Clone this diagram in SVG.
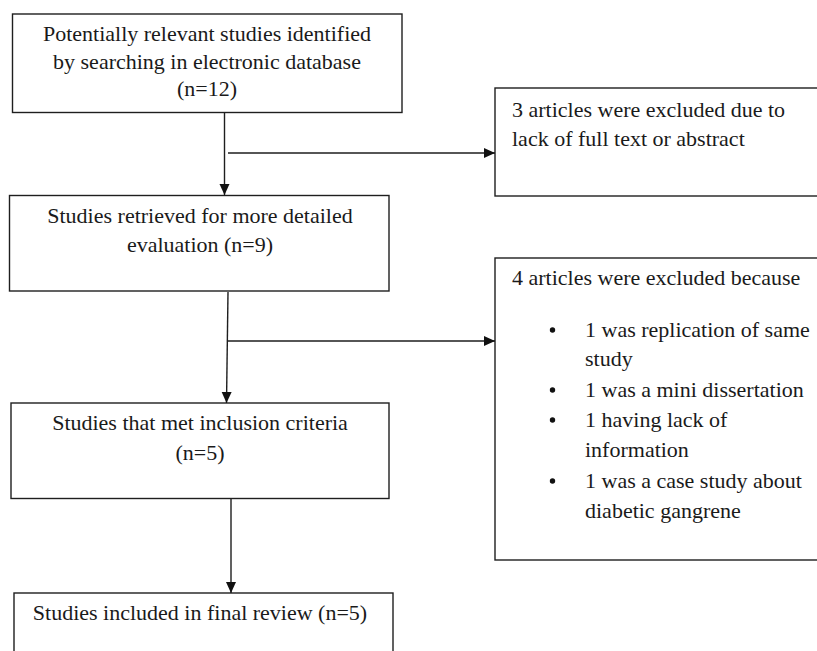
<svg xmlns="http://www.w3.org/2000/svg" width="817" height="651" viewBox="0 0 817 651">
  <style>
    .box { fill: #ffffff; stroke: #1e1e1e; stroke-width: 1.4; }
    .t { font-family: "Liberation Serif", "Times New Roman", serif; font-size: 22px; fill: #1a1a1a; }
    .c { text-anchor: middle; }
    .conn { stroke: #1e1e1e; stroke-width: 1.4; fill: none; }
    .bul { fill: #111111; }
  </style>
  <defs>
    <marker id="arrow" markerUnits="userSpaceOnUse" markerWidth="12" markerHeight="12" refX="11" refY="5" orient="auto">
      <path d="M0,0 L11,5 L0,10 Z" fill="#111111"/>
    </marker>
  </defs>
  <rect x="0" y="0" width="817" height="651" fill="#ffffff"/>

  <g id="node-identified">
    <rect class="box" x="12.5" y="14" width="389.5" height="98.5"/>
    <text class="t c" x="207" y="41">Potentially relevant studies identified</text>
    <text class="t c" x="207" y="68.5">by searching in electronic database</text>
    <text class="t c" x="207" y="96">(n=12)</text>
  </g>

  <g id="node-excluded1">
    <rect class="box" x="495" y="88" width="340" height="108"/>
    <text class="t" x="512" y="117">3 articles were excluded due to</text>
    <text class="t" x="512" y="146">lack of full text or abstract</text>
  </g>

  <g id="node-retrieved">
    <rect class="box" x="9.5" y="195.5" width="379.5" height="95.5"/>
    <text class="t c" x="200" y="222.5">Studies retrieved for more detailed</text>
    <text class="t c" x="200" y="251.5">evaluation (n=9)</text>
  </g>

  <g id="node-excluded2">
    <rect class="box" x="495" y="258" width="340" height="302"/>
    <text class="t" x="512" y="285">4 articles were excluded because</text>
    <circle class="bul" cx="552.5" cy="330" r="2.7"/>
    <text class="t" x="585" y="337">1 was replication of same</text>
    <text class="t" x="585" y="366">study</text>
    <circle class="bul" cx="552.5" cy="390" r="2.7"/>
    <text class="t" x="585" y="397">1 was a mini dissertation</text>
    <circle class="bul" cx="552.5" cy="420" r="2.7"/>
    <text class="t" x="585" y="427">1 having lack of</text>
    <text class="t" x="585" y="457">information</text>
    <circle class="bul" cx="552.5" cy="481" r="2.7"/>
    <text class="t" x="585" y="488">1 was a case study about</text>
    <text class="t" x="585" y="517.5">diabetic gangrene</text>
  </g>

  <g id="node-met-criteria">
    <rect class="box" x="11" y="403" width="378" height="95.5"/>
    <text class="t c" x="200" y="430">Studies that met inclusion criteria</text>
    <text class="t c" x="200" y="460">(n=5)</text>
  </g>

  <g id="node-final">
    <rect class="box" x="14" y="593" width="379" height="80"/>
    <text class="t c" x="200" y="620">Studies included in final review (n=5)</text>
  </g>

  <g id="connectors">
    <line class="conn" x1="224.5" y1="112.5" x2="224.5" y2="195" marker-end="url(#arrow)"/>
    <line class="conn" x1="228" y1="153" x2="495" y2="153" marker-end="url(#arrow)"/>
    <line class="conn" x1="228" y1="292" x2="226.5" y2="403" marker-end="url(#arrow)"/>
    <line class="conn" x1="227.5" y1="341" x2="495" y2="341" marker-end="url(#arrow)"/>
    <line class="conn" x1="231" y1="499" x2="231" y2="593" marker-end="url(#arrow)"/>
  </g>
</svg>
